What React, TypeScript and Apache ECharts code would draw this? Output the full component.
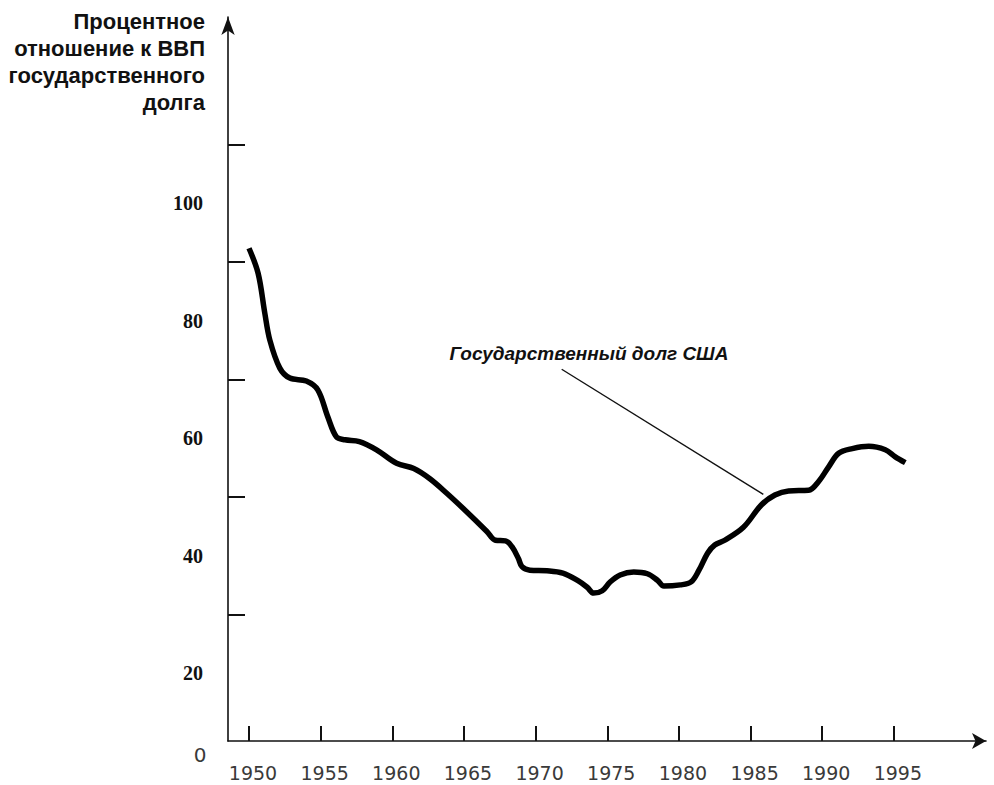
import React, { useEffect, useRef } from "react";
import * as echarts from "echarts";

const years = [
  1950.0, 1950.64, 1951.1, 1951.45, 1952.15, 1952.85, 1954.0, 1954.8, 1955.5,
  1956.1, 1956.7, 1957.7, 1958.9, 1960.3, 1961.5, 1962.6, 1963.8, 1964.95, 1966.6,
  1967.2, 1967.9, 1968.35, 1968.8, 1969.05, 1969.6, 1970.8, 1971.9, 1972.9, 1973.6,
  1974.05, 1974.65, 1975.2, 1975.9, 1976.85, 1977.8, 1978.5, 1978.95, 1980.1, 1980.85,
  1981.4, 1982.0, 1982.5, 1983.2, 1984.5, 1985.75, 1986.7, 1987.65, 1989.05,
  1989.75, 1990.45, 1991.15, 1992.1, 1993.25, 1994.4, 1995.1, 1995.8,
];
const debtPct = [
  92.3, 88.0, 81.3, 76.7, 71.9, 70.2, 69.7, 68.2, 63.6,
  60.2, 59.7, 59.4, 58.0, 55.7, 54.8, 53.1, 50.6, 48.0, 44.1,
  42.6, 42.5, 41.5, 39.5, 38.1, 37.5, 37.4, 37.0, 35.8, 34.6,
  33.6, 34.0, 35.5, 36.7, 37.2, 36.9, 35.8, 34.8, 35.0, 35.5,
  37.5, 40.4, 41.8, 42.6, 44.8, 48.6, 50.3, 51.0, 51.1,
  52.6, 55.1, 57.4, 58.2, 58.6, 58.0, 56.8, 55.8,
];
const yearTicks = [1950, 1955, 1960, 1965, 1970, 1975, 1980, 1985, 1990, 1995];
const yLabelValues = [20, 40, 60, 80, 100];
const yTickValues = [30, 50, 70, 90, 110];
const leaderFrom = [1971.82, 71.7];
const leaderTo = [1985.89, 50.4];
const titleText = "Процентное\nотношение к ВВП\nгосударственного\nдолга";
const seriesName = "Государственный долг США";

export default function App() {
  const ref = useRef<HTMLDivElement>(null);
  useEffect(() => {
    if (!ref.current) return;
    const chart = echarts.init(ref.current, null, { renderer: "svg" });
    const data = years.map((y, i) => [y, debtPct[i]]);
    chart.setOption({
      animation: false,
      backgroundColor: "#ffffff",
      grid: { left: 228, right: 8, top: 17, bottom: 44, containLabel: false },
      xAxis: {
        type: "value",
        min: 1948.535,
        max: 2001.43,
        splitLine: { show: false },
        axisLine: {
          show: true,
          lineStyle: { color: "#111", width: 1.6 },
          symbol: ["none", "arrow"],
          symbolSize: [12, 14],
        },
        axisTick: {
          show: true,
          inside: true,
          length: 15,
          lineStyle: { color: "#111", width: 2 },
          customValues: yearTicks,
        },
        axisLabel: {
          customValues: yearTicks,
          margin: 22,
          color: "#3a3a3a",
          fontFamily: "DejaVu Sans",
          fontSize: 19,
          padding: [0, 0, 0, 8],
          formatter: (v: number) => String(Math.round(v)),
        },
      },
      yAxis: {
        type: "value",
        min: 8.43,
        max: 131.66,
        splitLine: { show: false },
        axisLine: {
          show: true,
          onZero: false,
          lineStyle: { color: "#111", width: 1.6 },
          symbol: ["none", "arrow"],
          symbolSize: [10, 18],
        },
        axisTick: {
          show: true,
          inside: true,
          length: 17,
          lineStyle: { color: "#111", width: 2 },
          customValues: yTickValues,
        },
        axisLabel: {
          customValues: yLabelValues,
          margin: 25,
          color: "#111",
          fontFamily: "Liberation Serif",
          fontWeight: "bold",
          fontSize: 20,
          formatter: (v: number) => String(Math.round(v)),
        },
      },
      series: [
        {
          name: seriesName,
          type: "line",
          data,
          smooth: 0.35,
          showSymbol: false,
          lineStyle: { color: "#000", width: 5.5 },
          markLine: {
            silent: true,
            symbol: ["none", "none"],
            label: { show: false },
            lineStyle: { color: "#111", width: 1.4, type: "solid" },
            data: [[{ coord: leaderFrom }, { coord: leaderTo }]],
          },
        },
      ],
      graphic: [
        {
          type: "text",
          x: 205,
          y: 8,
          style: {
            text: titleText,
            textAlign: "right",
            textVerticalAlign: "top",
            font: "bold 22px 'Liberation Sans', Arial, sans-serif",
            lineHeight: 27,
            fill: "#111",
          },
        },
        {
          type: "text",
          x: 200,
          y: 755,
          style: {
            text: "0",
            textAlign: "center",
            textVerticalAlign: "middle",
            font: "20px 'DejaVu Sans', sans-serif",
            fill: "#3a3a3a",
          },
        },
        {
          type: "text",
          x: 589,
          y: 353,
          style: {
            text: seriesName,
            textAlign: "center",
            textVerticalAlign: "middle",
            font: "italic bold 19px 'Liberation Sans', Arial, sans-serif",
            fill: "#111",
          },
        },
      ],
    });
    return () => chart.dispose();
  }, []);
  return <div ref={ref} style={{ width: 994, height: 785, position: "absolute", left: 0, top: 0 }} />;
}
